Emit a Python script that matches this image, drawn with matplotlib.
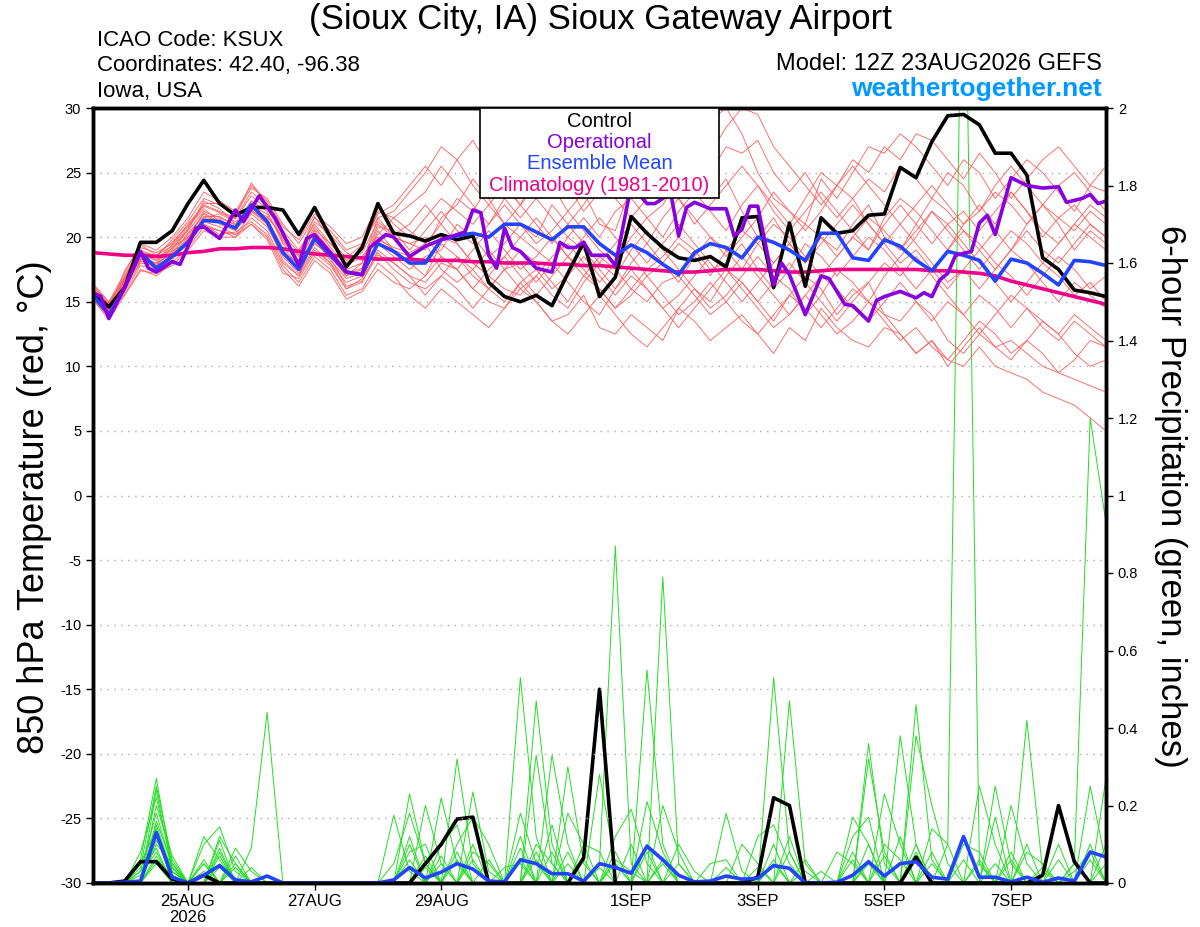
import numpy as np
import matplotlib
matplotlib.use('Agg')
from matplotlib import pyplot as plt
from matplotlib.patches import Rectangle
from matplotlib.ticker import FormatStrFormatter

plt.rcParams['font.family'] = ['Liberation Sans', 'DejaVu Sans']
plt.rcParams['axes.unicode_minus'] = False

# forecast hours, 6-hourly from 12Z 23AUG2026
hours = list(range(0, 385, 6))

tick_hours = [36, 84, 132, 204, 252, 300, 348]
tick_labels = ['25AUG\n2026', '27AUG', '29AUG', '1SEP', '3SEP', '5SEP', '7SEP']

# control run 850 hPa temperature (C)
ctl_temp = [15.7, 14.6, 16.1, 19.6, 19.6, 20.5, 22.6, 24.4, 22.6, 21.7,
            22.3, 22.3, 22.1, 20.2, 22.3, 20.0, 17.7, 19.2, 22.6, 20.3,
            20.1, 19.7, 20.2, 19.8, 20.1, 16.5, 15.4, 15.0, 15.5, 14.7,
            17.2, 19.6, 15.4, 16.9, 21.6, 20.3, 19.2, 18.4, 18.2, 18.5,
            17.7, 21.5, 21.6, 16.1, 21.1, 16.2, 21.5, 20.3, 20.5, 21.7,
            21.8, 25.4, 24.6, 27.4, 29.4, 29.5, 28.7, 26.5, 26.5, 24.8,
            18.4, 17.5, 15.9, 15.7, 15.4]

# ensemble mean 850 hPa temperature
mean_temp = [15.5, 14.0, 16.1, 18.8, 17.6, 18.5, 19.6, 21.3, 21.2, 20.7,
             22.5, 21.2, 18.8, 17.5, 19.9, 18.6, 17.3, 17.1, 19.5, 18.9,
             18.0, 18.0, 19.8, 20.1, 20.3, 20.0, 21.0, 21.0, 20.4, 19.8,
             20.8, 20.8, 19.5, 18.6, 19.4, 18.8, 17.9, 17.1, 18.8, 19.5,
             19.2, 18.4, 20.0, 19.6, 19.0, 18.2, 20.3, 20.3, 18.4, 18.2,
             19.8, 19.3, 18.2, 17.4, 18.9, 18.6, 18.2, 16.6, 18.3, 18.0,
             17.2, 16.3, 18.2, 18.1, 17.8]

# climatology (1981-2010)
clim_temp = [18.8, 18.7, 18.6, 18.6, 18.5, 18.6, 18.8, 18.9, 19.1, 19.1,
             19.2, 19.2, 19.1, 18.9, 18.7, 18.6, 18.5, 18.4, 18.3, 18.3,
             18.3, 18.2, 18.2, 18.2, 18.1, 18.1, 18.0, 18.0, 18.0, 17.9,
             17.9, 17.8, 17.8, 17.7, 17.6, 17.5, 17.4, 17.3, 17.3, 17.4,
             17.5, 17.5, 17.5, 17.4, 17.3, 17.3, 17.4, 17.5, 17.5, 17.5,
             17.5, 17.5, 17.5, 17.4, 17.4, 17.3, 17.2, 17.0, 16.6, 16.3,
             16.0, 15.7, 15.4, 15.1, 14.8]

# operational run, 3-hourly vertices
opr_hours = [0, 3, 6, 12, 18, 21, 24, 30, 33, 39, 42, 48, 54, 57, 63, 69, 72,
             78, 81, 84, 90, 96, 102, 105, 111, 114, 120, 126, 132, 141, 144,
             147, 150, 153, 156, 159, 162, 168, 174, 177, 180, 183, 186, 189,
             195, 198, 204, 210, 213, 219, 222, 225, 228, 234, 240, 243, 246,
             249, 252, 258, 261, 264, 270, 276, 279, 285, 288, 294, 297, 300,
             306, 312, 315, 318, 321, 324, 327, 333, 336, 339, 342, 348, 354,
             360, 366, 369, 375, 378, 381, 384]
opr_temp = [15.7, 15.4, 13.7, 16.1, 18.9, 17.6, 17.3, 18.1, 17.9, 20.7, 20.8,
            19.9, 22.1, 21.2, 23.2, 21.5, 20.3, 17.8, 19.9, 20.2, 18.8, 17.3,
            17.1, 19.2, 20.2, 20.0, 18.5, 19.3, 19.8, 20.4, 22.1, 21.9, 18.6,
            17.6, 20.7, 19.2, 18.9, 17.6, 17.3, 19.6, 19.2, 19.2, 19.6, 18.6,
            18.6, 17.8, 24.0, 22.6, 22.6, 23.4, 20.1, 22.3, 22.7, 22.2, 22.2,
            20.1, 20.6, 22.4, 22.4, 16.3, 18.0, 17.1, 14.0, 17.0, 16.8, 14.8,
            14.7, 13.5, 15.1, 15.4, 15.8, 15.3, 15.7, 15.4, 16.7, 17.2, 18.6,
            18.9, 21.1, 21.7, 20.2, 24.6, 24.0, 23.8, 23.9, 22.7, 23.0, 23.3,
            22.6, 22.8]

# ensemble members 850 hPa temperature
member_temp = [
    [16.0, 14.2, 16.8, 18.9, 18.2, 19.0, 20.5, 22.0, 21.5, 21.0, 22.8, 22.0, 19.5, 18.0, 20.5, 19.0, 17.5, 18.0, 21.0, 20.0, 19.5, 19.0, 21.5, 22.5, 24.5, 23.0, 21.0, 22.5, 25.0, 24.0, 22.0, 23.5, 21.0, 20.5, 24.0, 26.0, 25.0, 23.0, 27.5, 29.0, 30.0, 28.0, 25.0, 23.0, 22.0, 21.0, 24.5, 23.0, 25.0, 27.0, 26.5, 28.0, 27.0, 25.5, 24.0, 26.0, 25.0, 23.0, 24.5, 26.0, 25.0, 23.5, 22.0, 24.0, 23.5],
    [15.5, 14.0, 16.0, 18.0, 17.8, 18.5, 19.5, 21.0, 20.5, 20.0, 21.5, 20.5, 18.0, 17.0, 19.0, 18.0, 16.0, 16.5, 19.0, 18.0, 17.0, 16.5, 18.0, 17.5, 16.0, 15.0, 14.5, 16.5, 15.0, 13.5, 14.0, 15.5, 13.0, 12.5, 14.0, 13.0, 12.0, 14.5, 13.5, 12.0, 13.0, 14.0, 12.5, 11.0, 13.0, 12.0, 14.5, 13.0, 12.0, 11.5, 13.0, 12.5, 11.0, 12.0, 10.5, 10.0, 11.5, 10.0, 9.5, 9.0, 8.0, 7.5, 7.0, 6.0, 5.0],
    [15.8, 14.5, 16.5, 18.5, 18.0, 19.2, 20.0, 21.5, 21.8, 21.2, 22.0, 21.0, 19.0, 17.5, 20.0, 18.5, 17.0, 17.5, 20.5, 19.0, 18.0, 17.0, 19.5, 18.5, 17.0, 16.0, 17.5, 19.0, 18.0, 16.5, 15.0, 17.0, 16.0, 14.5, 16.0, 15.0, 16.5, 17.0, 15.5, 14.0, 15.0, 16.5, 15.0, 13.5, 15.5, 17.0, 16.0, 14.0, 15.5, 16.5, 14.0, 13.5, 15.0, 14.0, 12.0, 11.0, 12.5, 11.5, 12.0, 11.0, 10.0, 9.5, 9.0, 8.5, 8.0],
    [16.2, 14.8, 17.0, 19.2, 18.8, 19.5, 21.0, 22.5, 22.0, 21.5, 23.5, 22.5, 20.5, 19.0, 21.0, 19.5, 18.0, 19.0, 22.0, 21.5, 22.5, 23.5, 25.5, 24.0, 22.5, 21.0, 23.0, 25.0, 26.5, 25.0, 26.0, 28.0, 27.0, 29.0, 30.0, 28.0, 26.0, 27.0, 25.0, 23.0, 24.5, 22.0, 20.0, 21.5, 19.5, 18.0, 20.0, 19.0, 21.0, 22.5, 20.0, 19.0, 21.0, 23.0, 22.0, 20.5, 19.0, 17.5, 19.0, 20.5, 19.0, 18.0, 19.5, 21.0, 20.0],
    [15.6, 14.3, 16.3, 18.3, 17.9, 18.8, 20.2, 21.8, 21.0, 20.5, 22.0, 21.5, 18.8, 17.5, 19.5, 18.5, 17.0, 18.0, 21.5, 22.0, 23.5, 25.0, 27.0, 26.0, 24.0, 22.5, 21.0, 20.0, 19.0, 18.0, 20.0, 19.0, 17.5, 16.0, 18.0, 19.5, 18.0, 16.5, 18.5, 20.0, 19.0, 17.5, 19.5, 21.0, 20.0, 18.5, 17.0, 18.5, 20.0, 19.0, 21.5, 23.0, 22.0, 20.5, 19.0, 21.0, 22.5, 21.0, 23.5, 22.0, 20.5, 19.5, 21.0, 22.5, 21.5],
    [15.9, 14.6, 16.6, 18.6, 18.2, 19.4, 20.8, 22.2, 21.2, 20.8, 22.4, 21.8, 19.8, 18.5, 20.8, 19.2, 17.8, 18.5, 20.0, 19.0, 18.5, 18.0, 20.0, 19.5, 18.0, 17.0, 16.0, 15.5, 17.0, 15.5, 14.5, 16.5, 18.0, 17.0, 19.0, 20.5, 19.0, 17.5, 16.0, 14.5, 15.5, 17.0, 18.5, 17.0, 16.0, 14.0, 15.5, 17.5, 16.5, 15.0, 17.0, 18.5, 20.0, 22.0, 21.0, 19.5, 18.0, 16.5, 15.0, 16.5, 18.0, 17.0, 15.5, 16.5, 15.0],
    [15.3, 13.8, 15.8, 17.8, 17.5, 18.2, 19.8, 21.2, 20.8, 20.2, 21.8, 20.8, 18.5, 17.2, 19.2, 18.0, 16.5, 17.0, 19.5, 18.5, 17.5, 18.5, 19.0, 21.0, 20.0, 18.5, 19.5, 21.0, 20.0, 22.5, 21.0, 19.5, 18.0, 19.5, 21.0, 19.5, 21.5, 23.0, 21.5, 20.0, 18.5, 20.0, 21.5, 23.5, 22.0, 20.5, 22.0, 24.0, 23.0, 21.0, 19.5, 18.0, 19.0, 17.5, 16.0, 17.5, 19.0, 20.5, 19.0, 21.0, 22.5, 21.0, 19.0, 20.5, 19.5],
    [16.1, 14.4, 16.4, 18.2, 17.6, 18.6, 20.0, 21.0, 20.2, 20.4, 21.2, 20.2, 17.8, 16.5, 18.5, 17.5, 15.5, 16.0, 18.0, 17.0, 15.5, 14.5, 16.0, 15.0, 14.0, 13.0, 14.5, 16.0, 15.0, 13.5, 12.5, 14.0, 15.5, 14.0, 12.5, 11.5, 13.0, 14.5, 16.0, 15.0, 17.0, 18.5, 17.0, 15.5, 14.0, 15.5, 17.0, 16.0, 14.5, 13.5, 15.0, 16.5, 15.0, 13.5, 15.0, 14.0, 12.5, 14.0, 15.5, 14.5, 13.0, 12.0, 13.5, 12.5, 11.5],
    [15.7, 14.1, 16.2, 18.1, 18.0, 18.7, 20.3, 21.6, 21.6, 20.9, 22.6, 21.4, 19.2, 17.8, 20.2, 18.8, 17.2, 17.6, 20.8, 20.5, 19.0, 20.5, 22.0, 20.5, 19.5, 21.0, 22.5, 21.0, 19.5, 20.5, 22.0, 20.5, 19.0, 18.0, 20.0, 21.5, 20.0, 22.0, 23.5, 22.0, 20.5, 22.5, 24.0, 22.5, 21.0, 23.0, 25.0, 24.0, 26.0, 25.0, 27.0, 26.0, 28.0, 27.5, 26.0, 24.5, 26.5, 25.0, 23.0, 24.5, 26.0, 27.0, 25.5, 24.0, 25.5],
    [15.4, 14.9, 16.9, 19.0, 18.5, 19.8, 21.2, 23.0, 22.5, 21.8, 23.8, 23.0, 21.0, 19.5, 21.5, 20.5, 19.0, 19.5, 21.5, 20.0, 19.5, 20.0, 18.5, 17.5, 19.0, 20.5, 19.0, 17.5, 18.5, 20.0, 18.5, 17.0, 18.5, 17.5, 16.0, 17.5, 18.5, 20.0, 19.0, 17.5, 18.0, 19.5, 17.5, 16.0, 17.5, 19.5, 18.5, 17.0, 18.5, 20.0, 19.0, 17.5, 16.0, 17.5, 19.0, 20.5, 19.5, 18.0, 17.0, 15.5, 17.0, 18.5, 17.5, 16.0, 17.0],
    [15.2, 13.6, 15.5, 17.4, 17.2, 17.8, 19.0, 20.5, 20.0, 20.0, 21.0, 20.0, 17.5, 16.2, 18.2, 17.2, 15.2, 15.8, 17.5, 16.5, 16.0, 17.0, 18.5, 17.5, 16.0, 17.5, 18.5, 17.0, 15.5, 17.0, 18.5, 17.5, 16.0, 14.5, 15.5, 17.0, 15.5, 14.0, 15.0, 16.5, 15.0, 13.5, 12.5, 14.0, 15.5, 14.5, 13.0, 14.5, 16.0, 15.0, 13.5, 12.0, 13.0, 11.5, 10.5, 12.0, 13.5, 12.5, 11.0, 12.0, 13.5, 12.5, 11.0, 10.0, 10.5],
    [16.4, 15.0, 17.2, 19.5, 19.0, 20.0, 21.5, 23.5, 22.8, 22.0, 24.0, 22.8, 20.8, 19.8, 21.8, 20.8, 19.5, 20.0, 22.5, 21.0, 20.0, 21.5, 23.0, 22.0, 21.0, 22.5, 24.0, 22.5, 21.0, 19.5, 21.0, 22.5, 24.5, 23.0, 21.5, 23.0, 24.5, 23.0, 21.0, 22.5, 24.0, 25.5, 24.0, 22.0, 20.5, 22.0, 23.5, 22.0, 20.5, 19.0, 21.0, 22.5, 21.0, 19.5, 21.0, 22.0, 20.5, 22.0, 23.5, 22.0, 20.0, 21.5, 22.5, 21.0, 20.0],
    [15.5, 14.0, 15.6, 17.5, 17.0, 18.0, 19.2, 20.8, 20.5, 20.2, 21.0, 19.8, 17.2, 16.8, 18.8, 17.8, 16.0, 16.8, 18.8, 17.5, 16.5, 16.0, 17.0, 18.5, 17.5, 16.0, 15.0, 16.5, 17.5, 16.0, 17.0, 18.5, 17.0, 15.5, 17.0, 16.0, 14.5, 15.5, 17.0, 18.5, 17.5, 16.0, 14.5, 13.0, 14.0, 15.5, 14.0, 12.5, 13.5, 15.0, 14.0, 12.5, 11.0, 12.0, 10.0, 11.5, 13.0, 11.5, 10.5, 12.0, 11.0, 9.5, 10.5, 12.0, 11.5],
    [16.0, 14.7, 16.7, 18.7, 18.4, 19.1, 20.6, 22.8, 22.2, 21.0, 22.2, 21.6, 20.0, 18.2, 20.6, 19.5, 18.2, 18.8, 21.2, 20.2, 21.0, 22.5, 21.0, 23.0, 22.0, 24.0, 23.0, 21.5, 23.0, 21.5, 20.0, 21.5, 20.0, 22.0, 23.0, 21.5, 22.5, 24.5, 23.0, 25.0, 27.0, 26.5, 27.5, 25.0, 23.5, 25.0, 23.0, 21.5, 23.0, 24.5, 23.5, 25.5, 24.5, 23.0, 25.0, 24.0, 22.0, 23.5, 22.5, 21.0, 22.5, 21.5, 20.5, 22.0, 21.0],
    [15.1, 13.9, 16.1, 18.4, 17.8, 18.9, 19.6, 21.4, 21.4, 20.6, 22.8, 21.2, 18.2, 17.0, 19.8, 18.2, 16.8, 17.2, 19.8, 19.2, 18.8, 19.5, 17.5, 16.5, 17.5, 19.0, 17.5, 18.0, 16.5, 18.0, 16.5, 15.0, 14.0, 16.0, 17.5, 16.0, 14.5, 13.0, 14.5, 16.0, 17.5, 16.5, 15.0, 16.5, 18.0, 16.5, 15.0, 13.5, 15.0, 16.5, 18.0, 17.0, 18.5, 17.0, 15.5, 14.0, 15.5, 14.5, 13.0, 14.5, 13.5, 12.5, 14.0, 13.0, 12.0],
    [15.8, 14.4, 17.4, 19.4, 18.6, 19.6, 20.9, 22.4, 21.9, 21.4, 23.2, 22.2, 20.2, 18.8, 21.2, 20.2, 18.8, 18.2, 20.2, 21.5, 20.5, 19.5, 21.0, 19.5, 18.0, 17.0, 18.5, 20.0, 21.5, 20.0, 18.5, 20.0, 21.5, 20.0, 18.5, 17.0, 18.0, 19.5, 18.5, 17.0, 19.0, 20.5, 19.5, 18.0, 19.5, 21.0, 20.0, 18.5, 20.0, 21.5, 20.5, 19.0, 20.5, 22.0, 20.5, 19.0, 17.5, 19.0, 20.5, 19.5, 18.0, 19.5, 21.0, 20.0, 19.0],
    [16.3, 14.9, 16.8, 18.8, 18.6, 19.3, 20.6, 22.6, 22.6, 21.6, 24.2, 22.6, 19.6, 18.6, 21.6, 19.8, 18.4, 19.4, 21.8, 22.5, 24.0, 25.5, 24.0, 26.0, 27.5, 25.5, 24.0, 22.5, 24.0, 25.5, 24.0, 22.0, 23.5, 25.0, 27.0, 25.5, 27.5, 29.0, 28.0, 26.5, 28.5, 30.0, 29.5, 27.0, 25.5, 24.0, 22.5, 24.0, 25.5, 24.0, 22.5, 21.0, 22.5, 24.0, 22.5, 21.0, 22.0, 24.0, 25.5, 24.0, 22.5, 24.0, 25.0, 23.5, 22.0],
    [15.6, 14.2, 16.4, 18.6, 17.4, 18.4, 19.9, 21.9, 21.1, 20.7, 22.1, 21.1, 18.9, 17.9, 19.6, 18.4, 16.2, 16.6, 18.6, 18.0, 17.0, 15.5, 17.0, 16.0, 14.5, 16.0, 17.5, 16.0, 17.0, 18.5, 19.5, 18.0, 16.5, 18.0, 19.5, 18.0, 19.5, 21.0, 19.5, 18.0, 16.5, 15.0, 16.5, 18.0, 19.5, 18.0, 19.5, 21.0, 22.5, 21.0, 19.5, 21.0, 19.5, 18.0, 16.5, 17.5, 16.0, 17.5, 19.0, 18.0, 16.5, 15.0, 16.5, 15.5, 14.5],
]

# 6-hour precipitation (inches): control and ensemble mean
ctl_precip = [0, 0, 0.005, 0.055, 0.055, 0.01, 0, 0.02, 0, 0,
              0, 0, 0, 0, 0, 0, 0, 0, 0, 0,
              0, 0.05, 0.1, 0.165, 0.17, 0, 0, 0, 0, 0,
              0, 0.065, 0.5, 0, 0, 0, 0, 0, 0, 0,
              0, 0, 0.015, 0.22, 0.2, 0, 0, 0, 0, 0,
              0, 0, 0.067, 0, 0, 0, 0, 0, 0, 0,
              0.02, 0.2, 0.055, 0, 0]
mean_precip = [0, 0, 0.002, 0.005, 0.13, 0.015, 0, 0.02, 0.045, 0.008,
               0.003, 0.018, 0, 0, 0, 0, 0, 0, 0, 0.008,
               0.04, 0.013, 0.028, 0.05, 0.036, 0.005, 0.003, 0.06, 0.05, 0.024,
               0.024, 0.005, 0.05, 0.04, 0.025, 0.095, 0.06, 0.02, 0.003, 0.005,
               0.018, 0.01, 0.012, 0.045, 0.038, 0, 0, 0.002, 0.02, 0.055,
               0.018, 0.05, 0.055, 0.015, 0.01, 0.12, 0.015, 0.015, 0.003, 0.015,
               0.002, 0.013, 0.005, 0.08, 0.067]

# ensemble members precipitation, {6h step index: inches}, zero elsewhere
member_precip = [
    {3: 0.06, 4: 0.27, 5: 0.04, 8: 0.05, 20: 0.23, 21: 0.05, 27: 0.53, 28: 0.12, 33: 0.05, 36: 0.79, 37: 0.05, 43: 0.1, 49: 0.05, 52: 0.46, 53: 0.06, 63: 0.1},
    {3: 0.04, 4: 0.25, 5: 0.06, 7: 0.1, 8: 0.145, 9: 0.03, 23: 0.32, 24: 0.05, 28: 0.47, 29: 0.1, 32: 0.05, 33: 0.87, 34: 0.05, 44: 0.47, 45: 0.05, 54: 0.1, 55: 2.7, 56: 0.05, 64: 0.1},
    {4: 0.24, 5: 0.03, 10: 0.09, 11: 0.44, 19: 0.05, 20: 0.18, 21: 0.05, 24: 0.235, 25: 0.03, 30: 0.30, 31: 0.05, 35: 0.55, 36: 0.1, 43: 0.53, 44: 0.08, 49: 0.36, 50: 0.05, 59: 0.42, 60: 0.03},
    {3: 0.08, 4: 0.22, 5: 0.05, 8: 0.12, 9: 0.05, 19: 0.175, 20: 0.03, 22: 0.22, 23: 0.05, 29: 0.33, 30: 0.1, 36: 0.2, 37: 0.08, 49: 0.32, 50: 0.08, 62: 0.05, 63: 1.2, 64: 0.93},
    {4: 0.2, 5: 0.07, 7: 0.05, 9: 0.09, 10: 0.03, 21: 0.2, 22: 0.05, 27: 0.18, 28: 0.05, 32: 0.28, 33: 0.05, 40: 0.18, 41: 0.03, 51: 0.38, 52: 0.1, 57: 0.25, 58: 0.05},
    {3: 0.03, 4: 0.18, 5: 0.04, 8: 0.09, 23: 0.1, 24: 0.17, 25: 0.1, 28: 0.33, 29: 0.05, 35: 0.21, 36: 0.08, 48: 0.17, 49: 0.1, 52: 0.38, 53: 0.2, 54: 0.05, 58: 0.2, 59: 0.05},
    {4: 0.16, 5: 0.05, 7: 0.12, 8: 0.06, 20: 0.12, 27: 0.12, 30: 0.18, 31: 0.1, 42: 0.12, 43: 0.15, 44: 0.05, 50: 0.23, 51: 0.1, 56: 0.25, 57: 0.1, 64: 0.27},
    {3: 0.05, 4: 0.14, 5: 0.03, 9: 0.07, 22: 0.1, 23: 0.15, 33: 0.12, 34: 0.19, 35: 0.05, 45: 0.06, 48: 0.12, 49: 0.17, 53: 0.14, 54: 0.1, 57: 0.17, 63: 0.25, 64: 0.05},
    {4: 0.12, 5: 0.02, 8: 0.04, 24: 0.08, 25: 0.05, 27: 0.06, 29: 0.15, 37: 0.1, 38: 0.03, 44: 0.12, 47: 0.08, 48: 0.05, 55: 0.1, 56: 0.08, 61: 0.1},
    {4: 0.1, 5: 0.05, 7: 0.03, 20: 0.08, 21: 0.1, 28: 0.08, 31: 0.1, 32: 0.08, 36: 0.06, 41: 0.1, 42: 0.05, 50: 0.1, 51: 0.06, 59: 0.08, 60: 0.05},
    {3: 0.02, 4: 0.08, 8: 0.07, 23: 0.06, 26: 0.04, 27: 0.05, 30: 0.05, 35: 0.08, 39: 0.05, 40: 0.06, 52: 0.08, 58: 0.06, 62: 0.03, 63: 0.08},
    {4: 0.06, 5: 0.02, 9: 0.04, 22: 0.05, 24: 0.06, 33: 0.06, 34: 0.03, 43: 0.05, 46: 0.03, 49: 0.06, 56: 0.05, 60: 0.04},
    {4: 0.13, 7: 0.05, 21: 0.07, 28: 0.1, 29: 0.05, 35: 0.1, 44: 0.08, 53: 0.08, 57: 0.05},
    {4: 0.11, 5: 0.04, 8: 0.08, 20: 0.06, 23: 0.08, 30: 0.08, 36: 0.05, 48: 0.08, 51: 0.12, 59: 0.1, 64: 0.05},
    {3: 0.03, 4: 0.09, 10: 0.04, 22: 0.07, 27: 0.09, 33: 0.08, 42: 0.04, 49: 0.1, 55: 0.06, 61: 0.06},
    {4: 0.07, 7: 0.06, 21: 0.04, 25: 0.06, 31: 0.06, 37: 0.05, 43: 0.06, 52: 0.1, 58: 0.08},
    {4: 0.15, 5: 0.03, 8: 0.11, 24: 0.1, 29: 0.08, 34: 0.1, 45: 0.03, 50: 0.07, 56: 0.06, 63: 0.06},
    {4: 0.05, 9: 0.05, 20: 0.1, 28: 0.06, 32: 0.04, 40: 0.04, 48: 0.06, 53: 0.05, 62: 0.05},
]

c_ctl = 'black'
c_opr = '#8800dd'
c_mean = '#2244ff'
c_clim = '#ee0088'
c_member_t = '#ff5a5a'
c_member_p = '#22dd22'

fig = plt.figure(figsize=(12, 9.27), dpi=100)
axp = fig.add_axes([93/1200, 1 - 883/927, 1013/1200, 775/927])
axt = axp.twinx()

# precipitation (right axis)
for m in member_precip:
    vals = np.zeros(len(hours))
    for k, v in m.items():
        vals[k] = v
    axp.plot(hours, vals, color=c_member_p, lw=0.7)
axp.plot(hours, ctl_precip, color=c_ctl, lw=2.6)
axp.plot(hours, mean_precip, color=c_mean, lw=2.6)
axp.set_ylim(0, 2)
axp.set_yticks(np.arange(0, 2.01, 0.2))
axp.yaxis.set_major_formatter(FormatStrFormatter('%g'))
axp.yaxis.tick_right()

# temperature (left axis)
for m in member_temp:
    axt.plot(hours, m, color=c_member_t, lw=0.6)
axt.plot(hours, clim_temp, color=c_clim, lw=2.6)
axt.plot(hours, ctl_temp, color=c_ctl, lw=2.6)
axt.plot(hours, mean_temp, color=c_mean, lw=2.6)
axt.plot(opr_hours, opr_temp, color=c_opr, lw=2.6)
axt.set_ylim(-30, 30)
axt.set_yticks(range(-30, 31, 5))
axt.yaxis.tick_left()
for t in range(-25, 30, 5):
    axt.axhline(t, color='#aaaaaa', lw=1, ls=(0, (1, 4)), zorder=0)

axp.set_xlim(0, 384)
axp.set_xticks(tick_hours)
axp.set_xticklabels(tick_labels, linespacing=1.1)

for ax in (axp, axt):
    for s in ax.spines.values():
        s.set_linewidth(2.5)
    ax.tick_params(direction='out', length=5, width=1, labelsize=10.5)
axp.tick_params(axis='x', labelsize=12, pad=3)

# legend box (text entries centred, no line handles)
names = ['Control', 'Operational', 'Ensemble Mean', 'Climatology (1981-2010)']
cols = [c_ctl, c_opr, c_mean, c_clim]
name_y = [121, 142, 163, 185]
axt.add_patch(Rectangle(((480 - 93)/1013, (883 - 198)/775), 239/1013, 90/775,
                        transform=axt.transAxes, facecolor='white', edgecolor='black',
                        lw=1.2, zorder=5, clip_on=False))
for name, c, yy in zip(names, cols, name_y):
    axt.text((599.5 - 93)/1013, (883 - yy)/775, name, color=c, fontsize=14.5,
             ha='center', va='center', transform=axt.transAxes, zorder=6)

# header texts
fig.text(0.5, 1 - 19/927, '(Sioux City, IA) Sioux Gateway Airport', ha='center', va='center', fontsize=25)
fig.text(97/1200, 1 - 40/927, 'ICAO Code: KSUX', ha='left', va='center', fontsize=16)
fig.text(97/1200, 1 - 66/927, 'Coordinates: 42.40, -96.38', ha='left', va='center', fontsize=16)
fig.text(97/1200, 1 - 92/927, 'Iowa, USA', ha='left', va='center', fontsize=16)
fig.text(1102/1200, 1 - 64/927, 'Model: 12Z 23AUG2026 GEFS', ha='right', va='center', fontsize=17)
fig.text(1102/1200, 1 - 89/927, 'weathertogether.net', ha='right', va='center', fontsize=19,
         fontweight='bold', color='#0099ff')

fig.text(35/1200, 1 - 507/927, '850 hPa Temperature (red, °C)', rotation=90, ha='center', va='center', fontsize=26)
fig.text(1170/1200, 1 - 496/927, '6-hour Precipitation (green, inches)', rotation=270, ha='center', va='center', fontsize=25)

fig.savefig('out.png', dpi=100)
